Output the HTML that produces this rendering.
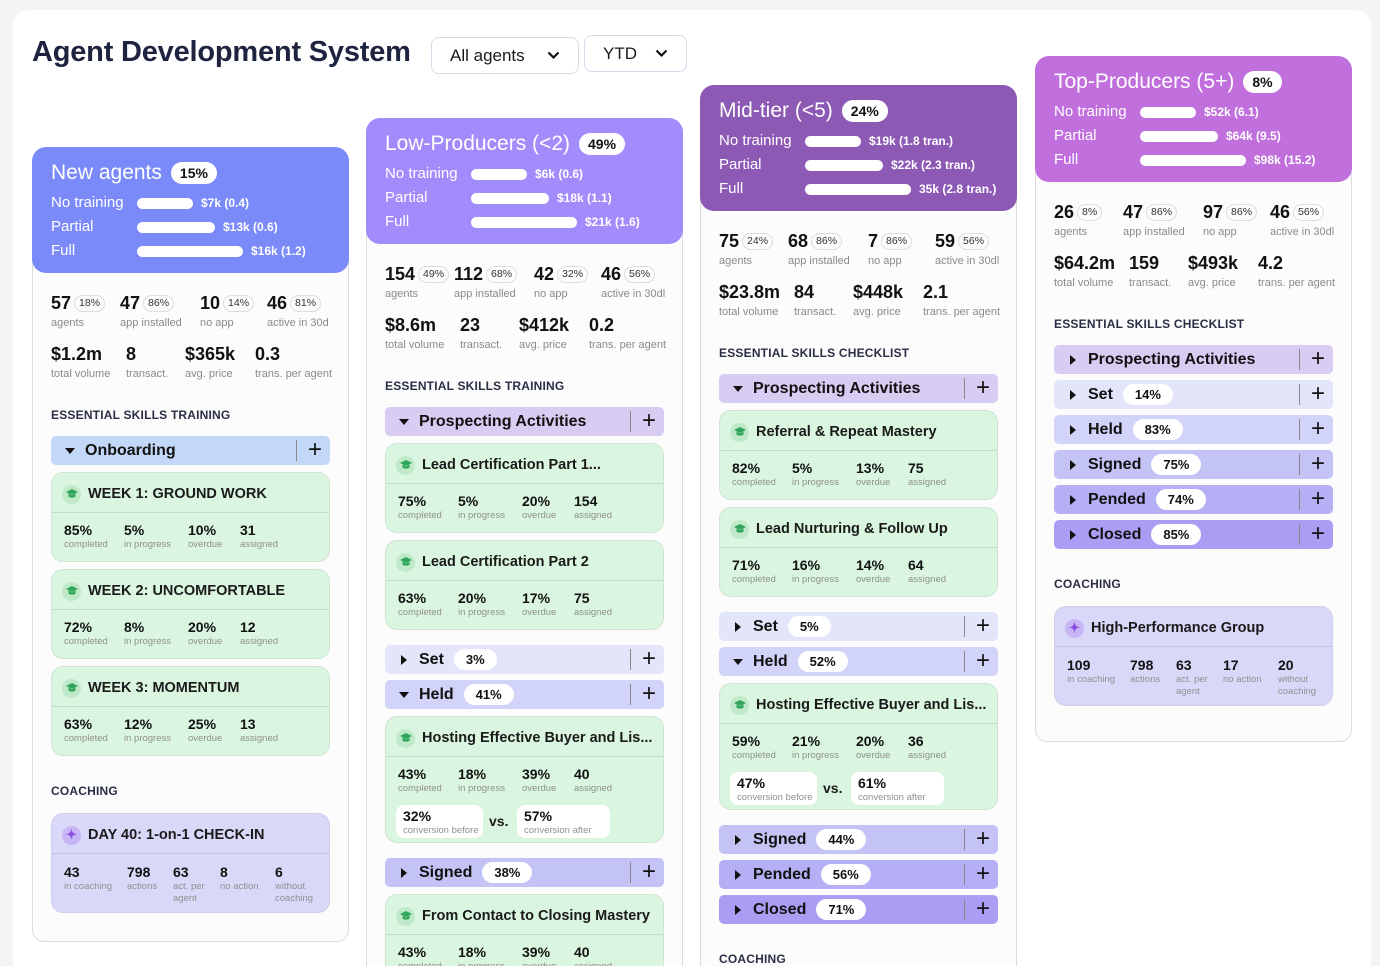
<!DOCTYPE html>
<html><head><meta charset="utf-8">
<style>
*{box-sizing:border-box;margin:0;padding:0}
html{width:1380px;height:966px;overflow:hidden}
body{width:1380px;height:966px;overflow:hidden;background:#F3F4F6;font-family:"Liberation Sans",sans-serif;color:#1a1a1a;position:relative}
#main{position:absolute;left:13px;top:10px;width:1358px;height:1000px;background:#fff;border-radius:16px}
h1{position:absolute;left:32px;top:36px;font-size:29px;font-weight:600;color:#1E2440;letter-spacing:-0.2px}
.dd{position:absolute;border:1px solid #d6d9e8;border-radius:8px;font-size:17px;color:#1a1a1a;padding-left:18px;display:flex;align-items:center}
.dd svg{position:absolute;right:18px}
.col{position:absolute;width:317px}
.body{position:absolute;left:0;width:317px;border:1px solid #dcdcdc;border-radius:12px;background:#FCFCFC}
.head{position:absolute;left:0;top:0;width:317px;height:126px;border-radius:14px;color:#fff}
.htitle{position:absolute;left:19px;top:14px;font-size:21px;font-weight:500;display:flex;align-items:center;white-space:nowrap}
.pill{display:inline-block;background:#fff;color:#111;font-weight:700;font-size:14px;border-radius:12px;padding:3px 9px;margin-left:9px;line-height:16px}
.hrow{position:absolute;left:19px;font-size:15px;height:20px;line-height:20px;width:300px;white-space:nowrap}
.hbar{position:absolute;left:86px;top:5px;height:11px;background:#fff;border-radius:6px}
.hval{position:absolute;top:0;font-size:12px;font-weight:700}
.st{position:absolute;white-space:nowrap}
.num{font-size:18px;font-weight:700;color:#111;display:inline-block;vertical-align:middle}
.sp{display:inline-block;vertical-align:middle;font-size:10.5px;color:#333;border:1px solid #ddd;border-radius:9px;padding:1px 4px;margin-left:3px;line-height:13px}
.lab{font-size:11px;color:#8a8a8a;margin-top:3px}
.sec{position:absolute;left:19px;font-size:12px;font-weight:600;color:#2a2f45;letter-spacing:0.2px}
.bar{position:absolute;left:19px;width:279px;height:29px;border-radius:5px;display:flex;align-items:center;font-size:16px;font-weight:600;color:#111}
.tri{position:absolute;left:14px;width:0;height:0}
.tri.open{border-left:5px solid transparent;border-right:5px solid transparent;border-top:6px solid #111;top:12px}
.tri.closed{border-top:5px solid transparent;border-bottom:5px solid transparent;border-left:6px solid #111;top:10px;left:16px}
.blab{position:absolute;left:34px;display:flex;align-items:center}
.bpill{background:#fff;border-radius:11px;font-size:13px;font-weight:700;padding:3px 12px;margin-left:10px;line-height:15px}
.bdiv{position:absolute;right:33px;top:4px;width:1px;height:21px;background:#888}
.plus{position:absolute;right:8px;top:3px;font-size:24px;font-weight:400;line-height:22px}
.card{position:absolute;left:19px;width:279px;border:1px solid #cfe4d3;border-radius:12px;background:#DAF5E0}
.ctitle{position:absolute;left:10px;top:10px;height:22px;display:flex;align-items:center;font-size:14.5px;font-weight:600;white-space:nowrap}
.icon{width:19px;height:19px;border-radius:50%;background:#bfe9c9;display:inline-flex;align-items:center;justify-content:center;margin-right:7px;font-size:11px;color:#2fa55a}
.cdiv{position:absolute;left:0;right:0;top:39px;height:1px;background:#c5dcc9}
.cs{position:absolute;top:49px;white-space:nowrap}
.cn{font-size:14px;font-weight:700;color:#111}
.cl{font-size:9.5px;color:#909090;margin-top:1px}
.conv{position:absolute;top:88px;height:33px;background:#fff;border-radius:8px;padding:3px 0 0 7px}
.vs{position:absolute;top:96px;font-size:14px;font-weight:700}
.coach{position:absolute;left:19px;width:279px;height:100px;background:#D9D8F9;border:1px solid #cfcfe8;border-radius:12px}
.coach .cdiv{background:#c4c4e0}
.coach .icon{background:#c8b5f5;color:#8a4fe0;font-size:13px}
</style></head>
<body>
<div id="main"></div>
<h1>Agent Development System</h1>
<div class="dd" style="left:431px;top:37px;width:148px;height:37px">All agents<svg width="13" height="9" viewBox="0 0 13 9"><path d="M1.5 1.5l5 5 5-5" stroke="#111" stroke-width="2.2" fill="none"/></svg></div>
<div class="dd" style="left:584px;top:35px;width:103px;height:37px">YTD<svg width="13" height="9" viewBox="0 0 13 9"><path d="M1.5 1.5l5 5 5-5" stroke="#111" stroke-width="2.2" fill="none"/></svg></div>
<div id="cols"></div>
<script>
const cols=[
{x:32,T:147,color:'#7A8AF9',title:'New agents',pct:'15%',
 rows:[['No training','$7k (0.4)'],['Partial','$13k (0.6)'],['Full','$16k (1.2)']],
 s1:[['57','18%','agents'],['47','86%','app installed'],['10','14%','no app'],['46','81%','active in 30d']],
 s2:[['$1.2m','total volume'],['8','transact.'],['$365k','avg. price'],['0.3','trans. per agent']],
 sec:'ESSENTIAL SKILLS TRAINING',
 items:[{bar:'Onboarding',open:1,bg:'#C3D8F8'},
  {card:'WEEK 1: GROUND WORK',v:['85%','5%','10%','31']},
  {card:'WEEK 2: UNCOMFORTABLE',v:['72%','8%','20%','12']},
  {card:'WEEK 3: MOMENTUM',v:['63%','12%','25%','13']}],
 coach:{title:'DAY 40: 1-on-1 CHECK-IN',v:[['43','in coaching'],['798','actions'],['63','act. per<br>agent'],['8','no action'],['6','without<br>coaching']]},bottom:942},
{x:366,T:118,color:'#A28BFB',title:'Low-Producers (&lt;2)',pct:'49%',
 rows:[['No training','$6k (0.6)'],['Partial','$18k (1.1)'],['Full','$21k (1.6)']],
 s1:[['154','49%','agents'],['112','68%','app installed'],['42','32%','no app'],['46','56%','active in 30dl']],
 s2:[['$8.6m','total volume'],['23','transact.'],['$412k','avg. price'],['0.2','trans. per agent']],
 sec:'ESSENTIAL SKILLS TRAINING',
 items:[{bar:'Prospecting Activities',open:1,bg:'#D9CCF3'},
  {card:'Lead Certification Part 1...',v:['75%','5%','20%','154']},
  {card:'Lead Certification Part 2',v:['63%','20%','17%','75']},
  {bar:'Set',p:'3%',bg:'#E3E5FB'},
  {bar:'Held',p:'41%',open:1,bg:'#D2D3F8'},
  {card:'Hosting Effective Buyer and Lis...',v:['43%','18%','39%','40'],conv:['32%','57%']},
  {bar:'Signed',p:'38%',bg:'#C3C3F6'},
  {card:'From Contact to Closing Mastery',v:['43%','18%','39%','40']}],bottom:1100},
{x:700,T:85,color:'#8C59B5',title:'Mid-tier (&lt;5)',pct:'24%',
 rows:[['No training','$19k (1.8 tran.)'],['Partial','$22k (2.3 tran.)'],['Full','35k (2.8 tran.)']],
 s1:[['75','24%','agents'],['68','86%','app installed'],['7','86%','no app'],['59','56%','active in 30dl']],
 s2:[['$23.8m','total volume'],['84','transact.'],['$448k','avg. price'],['2.1','trans. per agent']],
 sec:'ESSENTIAL SKILLS CHECKLIST',
 items:[{bar:'Prospecting Activities',open:1,bg:'#D9CCF3'},
  {card:'Referral &amp; Repeat Mastery',v:['82%','5%','13%','75']},
  {card:'Lead Nurturing &amp; Follow Up',v:['71%','16%','14%','64']},
  {bar:'Set',p:'5%',bg:'#E3E5FB'},
  {bar:'Held',p:'52%',open:1,bg:'#D2D3F8'},
  {card:'Hosting Effective Buyer and Lis...',v:['59%','21%','20%','36'],conv:['47%','61%']},
  {bar:'Signed',p:'44%',bg:'#C3C3F6'},
  {bar:'Pended',p:'56%',bg:'#B5AFF5'},
  {bar:'Closed',p:'71%',bg:'#AA9DF3'}],coachLabelOnly:1,bottom:1100},
{x:1035,T:56,color:'#C06FDC',title:'Top-Producers (5+)',pct:'8%',
 rows:[['No training','$52k (6.1)'],['Partial','$64k (9.5)'],['Full','$98k (15.2)']],
 s1:[['26','8%','agents'],['47','86%','app installed'],['97','86%','no app'],['46','56%','active in 30dl']],
 s2:[['$64.2m','total volume'],['159','transact.'],['$493k','avg. price'],['4.2','trans. per agent']],
 sec:'ESSENTIAL SKILLS CHECKLIST',
 items:[{bar:'Prospecting Activities',bg:'#D9CCF3'},
  {bar:'Set',p:'14%',bg:'#E3E5FB'},
  {bar:'Held',p:'83%',bg:'#D2D3F8'},
  {bar:'Signed',p:'75%',bg:'#C3C3F6'},
  {bar:'Pended',p:'74%',bg:'#B5AFF5'},
  {bar:'Closed',p:'85%',bg:'#AA9DF3'}],
 coach:{title:'High-Performance Group',v:[['109','in coaching'],['798','actions'],['63','act. per<br>agent'],['17','no action'],['20','without<br>coaching']]},bottom:742}
];
const barW=[56,78,106];
const s1x=[0,69,149,216], s2x=[0,75,134,204], cx=[12,72,136,188], kx=[12,75,121,168,223];
const cardLabs=['completed','in progress','overdue','assigned'];
const cap='<svg width="12" height="10" viewBox="0 0 12 10"><path d="M6 0L12 3 6 6 0 3Z" fill="#2fa55a"/><path d="M2.5 4.5v3c1 1.5 6 1.5 7 0v-3L6 6.5Z" fill="#2fa55a"/></svg>';
const root=document.getElementById('cols');
cols.forEach((c,ci)=>{
  const col=document.createElement('div');
  col.className='col';
  
  
  col.style.left=c.x+'px';col.style.top=c.T+'px';
  let hr='';
  c.rows.forEach((r,i)=>{
    hr+=`<div class="hrow" style="top:${46+i*24}px">${r[0]}<div class="hbar" style="width:${barW[i]}px"></div><span class="hval" style="left:${86+barW[i]+8}px">${r[1]}</span></div>`;
  });
  let s='';
  c.s1.forEach((a,i)=>{s+=`<div class="st" style="left:${19+s1x[i]}px;top:146px"><span class="num">${a[0]}</span><span class="sp">${a[1]}</span><div class="lab">${a[2]}</div></div>`;});
  c.s2.forEach((a,i)=>{s+=`<div class="st" style="left:${19+s2x[i]}px;top:197px"><span class="num">${a[0]}</span><div class="lab">${a[1]}</div></div>`;});
  s+=`<div class="sec" style="top:261px">${c.sec}</div>`;
  let y=289, prev=null;
  c.items.forEach(it=>{
    if(prev){ y+= (prev==='card'&&it.bar)?15:(prev==='bar'&&it.bar?6:7); }
    if(it.bar){
      s+=`<div class="bar" style="top:${y}px;background:${it.bg}"><div class="tri ${it.open?'open':'closed'}"></div><div class="blab">${it.bar}${it.p?`<span class="bpill">${it.p}</span>`:''}</div><div class="bdiv"></div><div class="plus">+</div></div>`;
      y+=29; prev='bar';
    } else {
      const hh=it.conv?127:90;
      let inner=`<div class="ctitle"><span class="icon">${cap}</span>${it.card}</div><div class="cdiv"></div>`;
      it.v.forEach((v,i)=>{inner+=`<div class="cs" style="left:${cx[i]}px"><div class="cn">${v}</div><div class="cl">${cardLabs[i]}</div></div>`;});
      if(it.conv){
        inner+=`<div class="conv" style="left:10px;width:87px"><div class="cn">${it.conv[0]}</div><div class="cl">conversion before</div></div><div class="vs" style="left:103px">vs.</div><div class="conv" style="left:131px;width:93px"><div class="cn">${it.conv[1]}</div><div class="cl">conversion after</div></div>`;
      }
      s+=`<div class="card" style="top:${y}px;height:${hh}px">${inner}</div>`;
      y+=hh; prev='card';
    }
  });
  if(c.coach||c.coachLabelOnly){
    s+=`<div class="sec" style="top:${y+28}px">COACHING</div>`;
  }
  if(c.coach){
    let inner=`<div class="ctitle"><span class="icon">&#10022;</span>${c.coach.title}</div><div class="cdiv"></div>`;
    c.coach.v.forEach((v,i)=>{inner+=`<div class="cs" style="left:${kx[i]}px;top:50px"><div class="cn">${v[0]}</div><div class="cl" style="line-height:12px">${v[1]}</div></div>`;});
    s+=`<div class="coach" style="top:${y+57}px">${inner}</div>`;
  }
  col.innerHTML=`<div class="body" style="top:10px;height:${c.bottom-c.T-10}px"></div>
  <div class="head" style="background:${c.color}"><div class="htitle">${c.title}<span class="pill">${c.pct}</span></div>${hr}</div>${s}`;
  root.appendChild(col);
});
</script>
</body></html>
